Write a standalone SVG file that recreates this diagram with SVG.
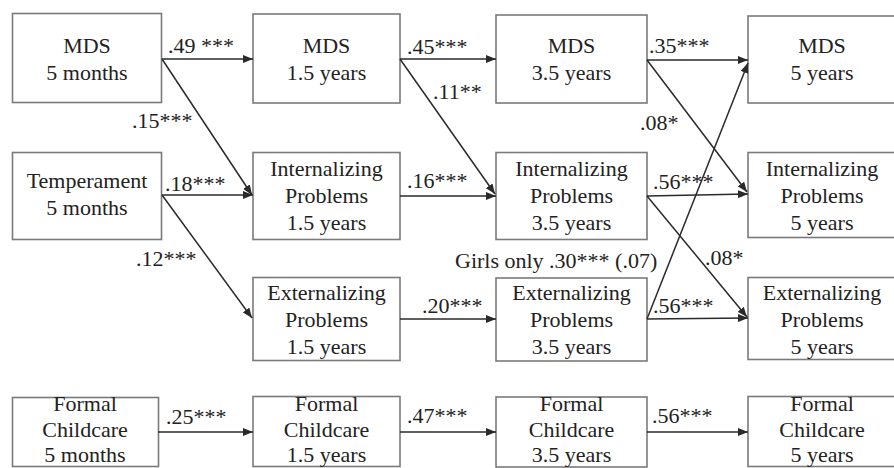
<svg xmlns="http://www.w3.org/2000/svg" width="894" height="468" viewBox="0 0 894 468">
  <defs>
    <marker id="arrow" markerUnits="userSpaceOnUse" markerWidth="10" markerHeight="8" refX="10" refY="4" orient="auto">
      <path d="M0,0 L10,4 L0,8 z" fill="#2a2a2a"/>
    </marker>
    <style>
      .box { fill: #ffffff; stroke: #7a7a7a; stroke-width: 1.6; }
      text { font-family: "Liberation Serif", "Tinos", "Noto Serif", "DejaVu Serif", "Times New Roman", Times, serif; font-size: 22px; fill: #222222; }
      .t { text-anchor: middle; }
      .edge { stroke: #2a2a2a; stroke-width: 1.5; fill: none; marker-end: url(#arrow); }
    </style>
  </defs>
  <rect width="894" height="468" fill="#ffffff"/>

  <!-- column 1: 5 months -->
  <g id="mds-5m">
    <rect class="box" x="12.5" y="13.5" width="149" height="89"/>
    <text class="t" x="87" y="53">MDS</text>
    <text class="t" x="87" y="80">5 months</text>
  </g>
  <g id="temperament-5m">
    <rect class="box" x="12.5" y="152.5" width="149" height="87"/>
    <text class="t" x="87" y="188">Temperament</text>
    <text class="t" x="87" y="215">5 months</text>
  </g>
  <g id="childcare-5m">
    <rect class="box" x="12.5" y="397.5" width="146" height="69"/>
    <text class="t" x="85" y="411">Formal</text>
    <text class="t" x="85" y="437">Childcare</text>
    <text class="t" x="85" y="462">5 months</text>
  </g>

  <!-- column 2: 1.5 years -->
  <g id="mds-1-5y">
    <rect class="box" x="253" y="14" width="147" height="89"/>
    <text class="t" x="326.5" y="53">MDS</text>
    <text class="t" x="326.5" y="80">1.5 years</text>
  </g>
  <g id="int-1-5y">
    <rect class="box" x="253" y="152.5" width="147" height="87"/>
    <text class="t" x="326.5" y="176">Internalizing</text>
    <text class="t" x="326.5" y="203">Problems</text>
    <text class="t" x="326.5" y="230">1.5 years</text>
  </g>
  <g id="ext-1-5y">
    <rect class="box" x="253" y="277.5" width="147" height="83"/>
    <text class="t" x="326.5" y="300">Externalizing</text>
    <text class="t" x="326.5" y="327">Problems</text>
    <text class="t" x="326.5" y="354">1.5 years</text>
  </g>
  <g id="childcare-1-5y">
    <rect class="box" x="253" y="396.5" width="147" height="70"/>
    <text class="t" x="326.5" y="411">Formal</text>
    <text class="t" x="326.5" y="437">Childcare</text>
    <text class="t" x="326.5" y="462">1.5 years</text>
  </g>

  <!-- column 3: 3.5 years -->
  <g id="mds-3-5y">
    <rect class="box" x="496" y="15" width="151" height="88"/>
    <text class="t" x="571.5" y="53">MDS</text>
    <text class="t" x="571.5" y="80">3.5 years</text>
  </g>
  <g id="int-3-5y">
    <rect class="box" x="496" y="152.5" width="151" height="87"/>
    <text class="t" x="571.5" y="176">Internalizing</text>
    <text class="t" x="571.5" y="203">Problems</text>
    <text class="t" x="571.5" y="230">3.5 years</text>
  </g>
  <g id="ext-3-5y">
    <rect class="box" x="496" y="278" width="151" height="83"/>
    <text class="t" x="571.5" y="300">Externalizing</text>
    <text class="t" x="571.5" y="327">Problems</text>
    <text class="t" x="571.5" y="354">3.5 years</text>
  </g>
  <g id="childcare-3-5y">
    <rect class="box" x="496" y="397" width="151" height="70"/>
    <text class="t" x="571.5" y="411">Formal</text>
    <text class="t" x="571.5" y="437">Childcare</text>
    <text class="t" x="571.5" y="462">3.5 years</text>
  </g>

  <!-- column 4: 5 years -->
  <g id="mds-5y">
    <rect class="box" x="748" y="16" width="152" height="87"/>
    <text class="t" x="822" y="53">MDS</text>
    <text class="t" x="822" y="80">5 years</text>
  </g>
  <g id="int-5y">
    <rect class="box" x="748" y="152.5" width="152" height="85"/>
    <text class="t" x="822" y="176">Internalizing</text>
    <text class="t" x="822" y="203">Problems</text>
    <text class="t" x="822" y="230">5 years</text>
  </g>
  <g id="ext-5y">
    <rect class="box" x="748" y="277.5" width="152" height="82"/>
    <text class="t" x="822" y="300">Externalizing</text>
    <text class="t" x="822" y="327">Problems</text>
    <text class="t" x="822" y="354">5 years</text>
  </g>
  <g id="childcare-5y">
    <rect class="box" x="748" y="396.5" width="152" height="70"/>
    <text class="t" x="822" y="411">Formal</text>
    <text class="t" x="822" y="437">Childcare</text>
    <text class="t" x="822" y="462">5 years</text>
  </g>

  <!-- paths between waves -->
  <g id="connectors">
    <line class="edge" x1="162" y1="59" x2="253" y2="59"/>
    <line class="edge" x1="162" y1="59" x2="252" y2="195"/>
    <line class="edge" x1="162" y1="195" x2="253" y2="195"/>
    <line class="edge" x1="162" y1="195" x2="252" y2="318"/>
    <line class="edge" x1="400" y1="59" x2="496" y2="59"/>
    <line class="edge" x1="400" y1="59" x2="495" y2="194"/>
    <line class="edge" x1="400" y1="196" x2="496" y2="196"/>
    <line class="edge" x1="400" y1="319" x2="496" y2="319"/>
    <line class="edge" x1="647" y1="60" x2="748" y2="60"/>
    <line class="edge" x1="647" y1="60" x2="747" y2="192"/>
    <line class="edge" x1="647" y1="196" x2="748" y2="194"/>
    <line class="edge" x1="647" y1="196" x2="747" y2="317"/>
    <line class="edge" x1="647" y1="319" x2="748" y2="63"/>
    <line class="edge" x1="647" y1="319" x2="748" y2="318"/>
    <line class="edge" x1="158" y1="432" x2="253" y2="432"/>
    <line class="edge" x1="400" y1="432" x2="496" y2="432"/>
    <line class="edge" x1="647" y1="432" x2="748" y2="432"/>
  </g>

  <!-- path coefficients -->
  <g id="labels">
    <text x="168" y="53">.49 ***</text>
    <text x="132" y="128">.15***</text>
    <text x="165" y="191">.18***</text>
    <text x="136" y="266">.12***</text>
    <text x="166" y="424">.25***</text>
    <text x="407" y="54">.45***</text>
    <text x="433" y="99">.11**</text>
    <text x="407" y="188">.16***</text>
    <text x="422" y="313">.20***</text>
    <text x="407" y="423">.47***</text>
    <text x="455" y="268">Girls only .30*** (.07)</text>
    <text x="649" y="53">.35***</text>
    <text x="640" y="130">.08*</text>
    <text x="653" y="189">.56***</text>
    <text x="705" y="265">.08*</text>
    <text x="653" y="313">.56***</text>
    <text x="652" y="423">.56***</text>
  </g>
</svg>
